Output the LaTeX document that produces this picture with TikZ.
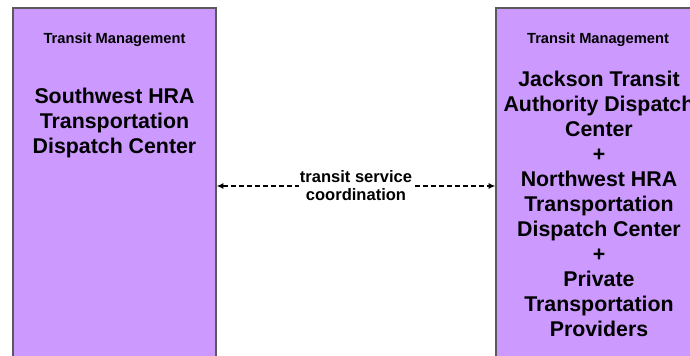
\documentclass[tikz,border=0pt]{standalone}
\usepackage{fontspec}
\setmainfont{Liberation Sans}
\usetikzlibrary{arrows.meta, positioning}
\definecolor{boxfill}{HTML}{CC99FF}
\definecolor{boxline}{HTML}{5A5A5A}
\begin{document}
\begin{tikzpicture}[x=0.75pt, y=-0.75pt, >={Latex[length=5pt,width=4.5pt]}, every node/.style={font=\bfseries}]
  \useasboundingbox (0,0) rectangle (690,356);
  \clip (0,0) rectangle (690,356);
  % Left centre
  \node[draw=boxline, line width=1.1pt, fill=boxfill, minimum width=152.25pt, minimum height=271.5pt, inner sep=0pt] (SW) at (114.5,189) {};
  \node[font=\bfseries\fontsize{11}{13}\selectfont] (SWtag) at (114.5,40) {Transit Management};
  \node[align=center, font=\bfseries\fontsize{16}{18.75}\selectfont] (SWname) at (114.5,123) {Southwest HRA\\Transportation\\Dispatch Center};

  % Right centre
  \node[draw=boxline, line width=1.1pt, fill=boxfill, minimum width=153pt, minimum height=271.5pt, inner sep=0pt] (JT) at (598,189) {};
  \node[font=\bfseries\fontsize{11}{13}\selectfont] (JTtag) at (598,40) {Transit Management};
  \node[align=center, font=\bfseries\fontsize{16}{18.75}\selectfont] (JTname) at (599,204) {Jackson Transit\\Authority Dispatch\\Center\\+\\Northwest HRA\\Transportation\\Dispatch Center\\+\\Private\\Transportation\\Providers};

  % Flow
  \coordinate (mid) at (356,186);
  \draw[<->, line width=0.8pt, dash pattern=on 3.5pt off 2.5pt] (SW.east |- mid) -- (JT.west |- mid);
  \node[fill=white, align=center, inner sep=1pt, font=\bfseries\fontsize{12.4}{13.5}\selectfont] (flow) at (mid) {transit service\\coordination};
\end{tikzpicture}
\end{document}
